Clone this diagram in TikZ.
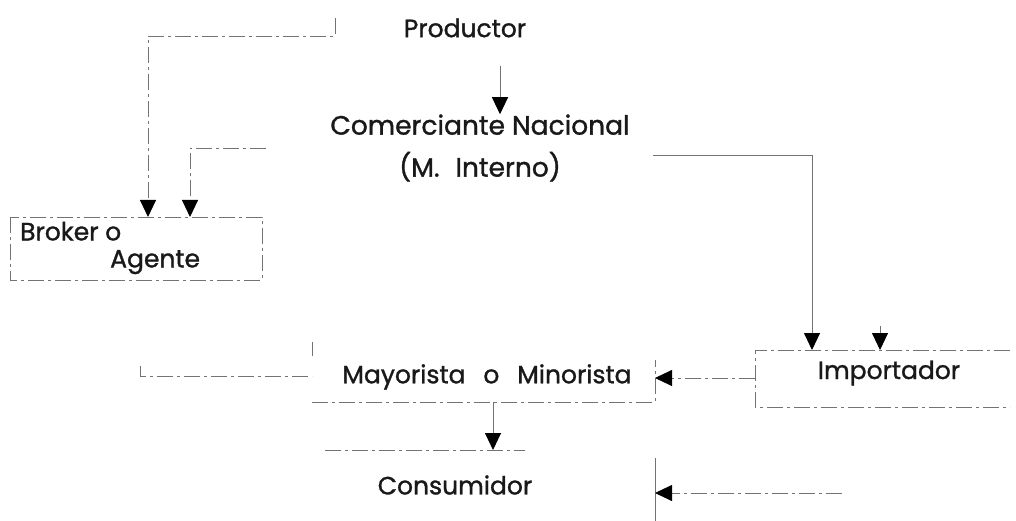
\documentclass[tikz,border=0pt]{standalone}
\usepackage{fontspec}
\setmainfont{Poppins}[FakeBold=1.2]
\usetikzlibrary{arrows.meta}
\tikzset{
  ln/.style={draw=black!55, line width=0.9pt},
  dl/.style={ln, dash pattern=on 16pt off 4pt on 3pt off 4pt},
  arr/.style={-{Triangle[length=17pt,width=16pt,black]}},
  txt/.style={font=\fontsize{25}{27}\selectfont, inner sep=0pt, text=black!90},
  boxn/.style={inner sep=0pt, outer sep=0pt},
}
\begin{document}
\begin{tikzpicture}[x=1pt,y=-1pt]
\useasboundingbox (0,0) rectangle (1016,521);

% nodes
\node[txt] (prod) at (465,28) {Productor};
\node[txt, align=center, font=\fontsize{26.5}{42}\selectfont] (com) at (480,148) {Comerciante Nacional\\(M.\hspace{0.6em}Interno)\hspace{16pt}};
\node[boxn, minimum width=252pt, minimum height=63pt, anchor=north west] (broker) at (10,217) {};
\node[txt, align=left, anchor=west] (brokert) at (20,248) {Broker o\\\hspace{90pt}Agente};
\node[boxn, minimum width=343pt, minimum height=60pt, anchor=north west] (may) at (312,342) {};
\node[txt] (mayt) at (487,377) {Mayorista\hspace{0.45em} o\hspace{0.45em} Minorista};
\node[boxn, minimum width=255pt, minimum height=57pt, anchor=north west] (imp) at (755,350) {};
\node[txt] (impt) at (889,373) {Importador};
\node[txt] (cons) at (455,485) {Consumidor};

% box outlines (as visible)
\draw[dl] (broker.north west) rectangle (broker.south east);
\draw[dl] (may.north west) -- ([yshift=-14pt]may.north west);
\draw[dl] (may.south west) -- (may.south east) -- ([yshift=-18pt]may.north east);
\draw[dl] (imp.north east) -- (imp.north west) -- (imp.south west) -- (imp.south east);
\coordinate (k1) at (325,450);
\coordinate (k2) at (525,450);
\draw[dl] (k1) -- (k2);

% connectors
\coordinate (p1) at (335,18);
\coordinate (p2) at (335,36);
\coordinate (p3) at (148,36);
\draw[dl,arr] (p1) -- (p2) -- (p3) -- (p3 |- broker.north);

\coordinate (p4) at (500,66);
\draw[ln,arr] (p4) -- (p4 |- com.north);

\coordinate (c1) at (266,148);
\coordinate (c2) at (190,148);
\draw[dl,arr] (c1) -- (c2) -- (c2 |- broker.north);

\coordinate (c3) at (653,155);
\coordinate (c4) at (812,155);
\draw[ln,arr] (c3) -- (c4) -- (c4 |- imp.north);

\coordinate (c5) at (880,326);
\draw[ln,arr] (c5) -- (c5 |- imp.north);

\coordinate (m1) at (140,366);
\coordinate (m2) at (140,376);
\draw[dl] (m1) -- (m2) -- (m2 -| may.west);

\coordinate (i1) at (755,378);
\draw[dl,arr] (i1) -- (i1 -| may.east);

\coordinate (m3) at (493,402);
\draw[ln,arr] (m3) -- (m3 |- k1);

\coordinate (b1) at (655,458);
\coordinate (b2) at (655,521);
\draw[ln] (b1) -- (b2);
\coordinate (b3) at (842,493);
\draw[dl,arr] (b3) -- (b3 -| b1);
\end{tikzpicture}
\end{document}
